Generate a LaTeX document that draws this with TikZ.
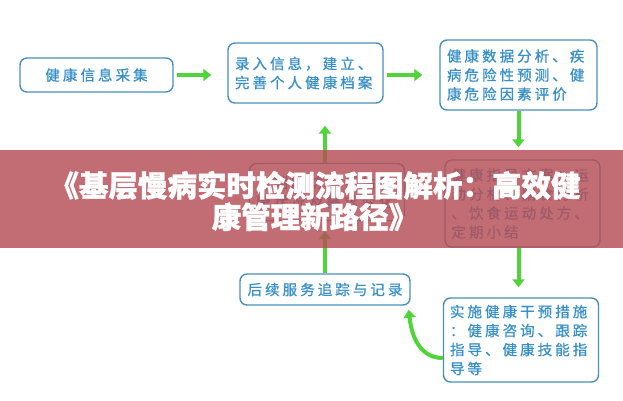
\documentclass[tikz,border=0pt]{standalone}
\usepackage{fontspec}
\usetikzlibrary{arrows.meta}
\newfontfamily\cjk[LetterSpace=21,FakeBold=0.8]{Noto Sans CJK SC}
\newfontfamily\cjktitle[FakeBold=1.2]{Noto Sans CJK SC}
\definecolor{boxblue}{HTML}{3790C8}
\definecolor{bordblue}{HTML}{4A8FBA}
\definecolor{arrgreen}{HTML}{4FD43A}
\definecolor{bannerred}{RGB}{181,78,85}
\tikzset{
  flowbox/.style={draw=bordblue, line width=1.4pt, rounded corners=7pt, fill=white,
    text=boxblue, font=\cjk\fontsize{14.5}{19}\selectfont, inner sep=0pt},
  greenarrow/.style={draw=arrgreen, line width=4pt, -{Triangle[width=12pt,length=8pt]}},
}
\begin{document}
\begin{tikzpicture}[x=1pt,y=-1pt]
\useasboundingbox (0,0) rectangle (623,400);
\fill[white] (0,0) rectangle (623,400);
\node[flowbox, minimum width=153pt, minimum height=34pt] (A) at (96.5,75) {健康信息采集};
\node[flowbox, minimum width=155pt, minimum height=60pt, text width=141pt, align=left] (B) at (305.5,73) {录入信息，建立、\\完善个人健康档案};
\node[flowbox, minimum width=157pt, minimum height=70pt, text width=143pt, align=left] (C) at (518.5,75) {健康数据分析、疾\\病危险性预测、健\\康危险因素评价};
\node[flowbox, minimum width=155pt, minimum height=87pt, text width=142pt, align=left] (D) at (522.5,203.5) {健康指导方案：运\\动分析、膳食分析\\、饮食运动处方、\\定期小结};
\node[flowbox, minimum width=155pt, minimum height=84pt, text width=142pt, align=left] (E) at (521,340) {实施健康干预措施\\：健康咨询、跟踪\\指导、健康技能指\\导等};
\node[flowbox, minimum width=170pt, minimum height=31pt] (F) at (325,289.5) {后续服务追踪与记录};
\node[flowbox, minimum width=155pt, minimum height=57pt, text width=142pt, align=left] (G) at (327,192) {定期随访，评估健\\康状况及需求变化};
\draw[greenarrow, shorten <=3pt, shorten >=16pt] (A.east) -- (B.west |- A.east);
\draw[greenarrow, shorten <=3pt, shorten >=17pt] (B.east |- A.east) -- (C.west |- A.east);
\draw[greenarrow, shorten >=12pt] (C.south) -- (C.south |- D.north);
\draw[greenarrow, shorten >=10pt] (C.south |- D.south) -- (C.south |- E.north);
\draw[greenarrow, shorten >=10pt] (F.north) -- (F.north |- G.south);
\draw[greenarrow, shorten >=22pt] (F.north |- G.north) -- (F.north |- B.south);
\draw[greenarrow] ([yshift=-18pt]E.west) .. controls +(-22,0) and +(3,28) .. ([xshift=-2pt,yshift=-4pt]F.south east);
\fill[bannerred, opacity=0.82] (0,150) rectangle (623,248);
\node[text=white, font=\cjktitle\bfseries\fontsize{29.5}{31.5}\selectfont, align=center, inner sep=0pt] (title) at (315,201) {《基层慢病实时检测流程图解析：高效健\\康管理新路径》};
\end{tikzpicture}
\end{document}
